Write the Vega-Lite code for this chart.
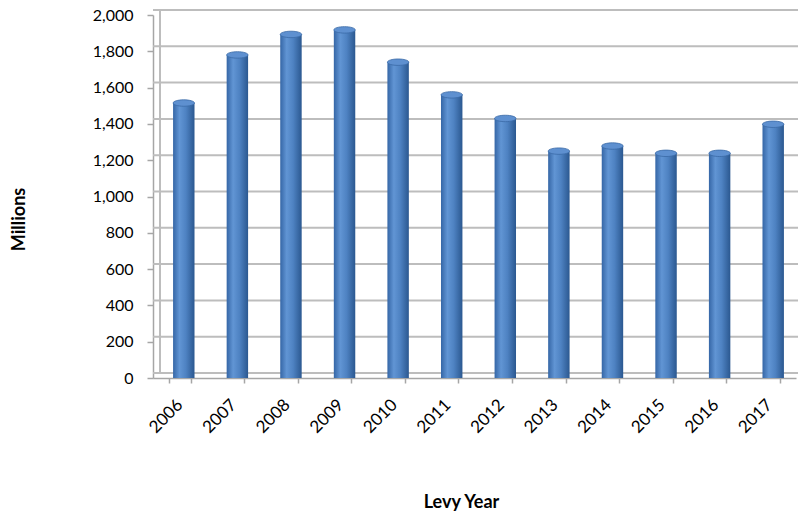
{
  "$schema": "https://vega.github.io/schema/vega-lite/v6.json",
  "autosize": {"type": "none"},
  "width": 643,
  "height": 363,
  "padding": {"left": 153, "top": 15, "right": 2, "bottom": 138},
  "background": "white",
  "config": {
    "font": "Lato",
    "view": {"stroke": null},
    "axis": {"labelFont": "Lato", "titleFont": "Lato", "labelColor": "#000000", "titleColor": "#000000"}
  },
  "resolve": {"axis": {"y": "independent"}},
  "datasets": {
    "levy": [
      {"year": "2006", "millions": 1515},
      {"year": "2007", "millions": 1780},
      {"year": "2008", "millions": 1893},
      {"year": "2009", "millions": 1918},
      {"year": "2010", "millions": 1740},
      {"year": "2011", "millions": 1560},
      {"year": "2012", "millions": 1430},
      {"year": "2013", "millions": 1250},
      {"year": "2014", "millions": 1278},
      {"year": "2015", "millions": 1238},
      {"year": "2016", "millions": 1238},
      {"year": "2017", "millions": 1398}
    ],
    "grid": [
      {"v": 0}, {"v": 200}, {"v": 400}, {"v": 600}, {"v": 800}, {"v": 1000},
      {"v": 1200}, {"v": 1400}, {"v": 1600}, {"v": 1800}, {"v": 2000}
    ]
  },
  "layer": [
    {
      "data": {"name": "grid"},
      "mark": {"type": "rule", "color": "#BDBDBD", "strokeWidth": 2, "xOffset": 7, "yOffset": -5},
      "encoding": {
        "y": {
          "field": "v", "type": "quantitative",
          "scale": {"domain": [0, 2000]},
          "axis": {
            "orient": "left",
            "title": "Millions",
            "titleFontSize": 18, "titleFontWeight": "bold",
            "titleX": -134, "titleY": 204, "titleBaseline": "middle", "titleAlign": "center",
            "values": [0, 200, 400, 600, 800, 1000, 1200, 1400, 1600, 1800, 2000],
            "format": ",d",
            "labelOverlap": false,
            "labelFontSize": 16, "labelPadding": 14,
            "domainColor": "#A6A6A6", "domainWidth": 1.5,
            "tickColor": "#A6A6A6", "tickSize": 6, "tickWidth": 1.5,
            "grid": false
          }
        }
      }
    },
    {
      "data": {"name": "levy"},
      "mark": {
        "type": "bar",
        "xOffset": 4,
        "color": {
          "gradient": "linear",
          "x1": 0, "y1": 0, "x2": 1, "y2": 0,
          "stops": [
            {"offset": 0, "color": "#3566A6"},
            {"offset": 0.3, "color": "#6195D4"},
            {"offset": 0.6, "color": "#4E82C2"},
            {"offset": 1, "color": "#2B5890"}
          ]
        }
      },
      "encoding": {
        "x": {
          "field": "year", "type": "ordinal",
          "scale": {"paddingInner": 0.6, "paddingOuter": 0.3},
          "axis": {
            "title": "Levy Year",
            "titleFontSize": 18, "titleFontWeight": "bold",
            "titleX": 308, "titleY": 124, "titleBaseline": "middle",
            "labelAngle": -45, "labelAlign": "right", "labelBaseline": "middle",
            "labelOverlap": false,
            "labelFontSize": 17, "labelOffset": 0, "labelPadding": 19,
            "domainColor": "#A6A6A6", "domainWidth": 1.5,
            "tickColor": "#A6A6A6", "tickSize": 5, "tickWidth": 1.5, "tickBand": "extent",
            "grid": false
          }
        },
        "y": {
          "field": "millions", "type": "quantitative",
          "axis": {
            "orient": "left",
            "title": null,
            "labels": false,
            "ticks": false,
            "grid": false,
            "offset": -12,
            "translate": -5,
            "domainColor": "#BDBDBD",
            "domainWidth": 2
          }
        }
      }
    },
    {
      "data": {"name": "levy"},
      "mark": {
        "type": "point",
        "filled": true,
        "xOffset": 4,
        "shape": "M-1,0 A1,0.3 0 1,1 1,0 A1,0.3 0 1,1 -1,0 Z",
        "size": 460,
        "color": "#5E90D0",
        "stroke": "#3A69A6",
        "strokeWidth": 0.8,
        "opacity": 1
      },
      "encoding": {
        "x": {"field": "year", "type": "ordinal"},
        "y": {"field": "millions", "type": "quantitative", "axis": null}
      }
    }
  ]
}
